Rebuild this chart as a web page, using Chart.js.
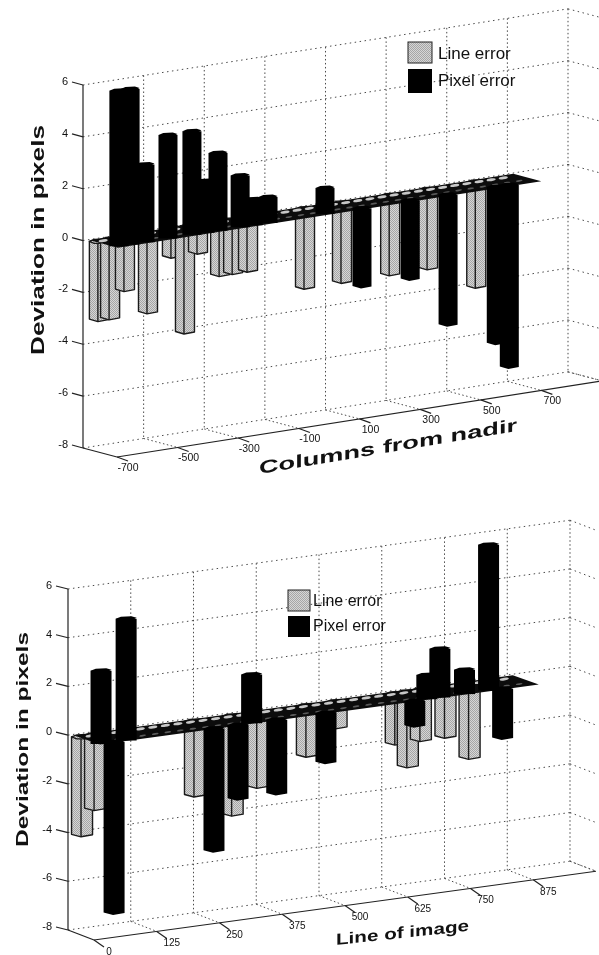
<!DOCTYPE html>
<html>
<head>
<meta charset="utf-8">
<style>
  html, body { margin: 0; padding: 0; background: #fff; }
  canvas { position: absolute; left: 0; }
</style>
<script src="https://cdn.jsdelivr.net/npm/chart.js@4"></script>
</head>
<body>
<canvas id="top_chart" width="599" height="480" style="top:0"></canvas>
<canvas id="bottom_chart" width="599" height="475" style="top:480px"></canvas>
<script>
const seriesNames = ["Line error", "Pixel error"];
const yTicks = [6, 4, 2, 0, -2, -4, -6, -8];

const topCols = [-674, -637, -588, -512, -433, -390, -347, -274, -231, -182, 6, 128, 287, 412, 571, 614];
const topLine = [-3, -3, -2, -3, -1, -4, -1, -2, -2, -2, -3, -3, -3, -3, -4, 0];
const topPixel = [6, 6, 3, 4, 4, 2, 3, 2, 1, 1, 1, -3, -3, -5, -6, -7];
const topXTicks = [-700, -500, -300, -100, 100, 300, 500, 700, 900];
const topXLabels = ["-700", "-500", "-300", "-100", "100", "300", "500", "700"];
const topZeroCols = [-660, -620, -580, -540, -500, -460, -420, -380, -340, -300, -260, -220, -180, -140, -100, -60, -20, 20, 60, 100, 140, 180, 220, 260, 300, 340, 380, 420, 460, 500, 540, 580, 620, 660];

const bottomCols = [14, 40, 64, 239, 287, 314, 364, 462, 521, 639, 663, 689, 738, 786, 814];
const bottomLine = [-4, -3, 0, -3, 0, -4, -3, -2, -1, -2, -3, -2, -2, -3, 0];
const bottomPixel = [3, -7, 5, -5, -3, 2, -3, -2, 0, -1, 1, 2, 1, 6, -2];
const bottomXTicks = [0, 125, 250, 375, 500, 625, 750, 875, 1000];
const bottomXLabels = ["0", "125", "250", "375", "500", "625", "750", "875"];
const bottomZeroCols = [30, 55, 80, 105, 130, 155, 180, 205, 230, 255, 280, 305, 330, 355, 380, 405, 430, 455, 480, 505, 530, 555, 580, 605, 630, 655, 680, 705, 730, 755, 780, 805, 830, 855];

// fine halftone for the grey bars, the scan has it too
function makeStipple() {
  let c = document.createElement("canvas");
  c.width = 2;
  c.height = 2;
  let g = c.getContext("2d");
  g.fillStyle = "#d6d6d6";
  g.fillRect(0, 0, 2, 2);
  g.fillStyle = "#a6a6a6";
  g.fillRect(0, 0, 1, 1);
  g.fillRect(1, 1, 1, 1);
  return g.createPattern(c, "repeat");
}

function path(ctx, pts) {
  ctx.beginPath();
  pts.forEach((p, i) => i === 0 ? ctx.moveTo(p[0], p[1]) : ctx.lineTo(p[0], p[1]));
  ctx.closePath();
}

function line(ctx, x1, y1, x2, y2) {
  ctx.beginPath();
  ctx.moveTo(x1, y1);
  ctx.lineTo(x2, y2);
  ctx.stroke();
}

// stretched text, sheared so it follows the floor of the box
function stretchedText(ctx, text, font, x, y, length, shear, upright) {
  ctx.save();
  ctx.font = font;
  ctx.textAlign = "left";
  ctx.textBaseline = "alphabetic";
  let sx = length / ctx.measureText(text).width;
  ctx.translate(x, y);
  if (upright) {
    ctx.rotate(-Math.PI / 2);
  }
  ctx.transform(sx, shear * sx, 0, 1, 0, 0);
  ctx.fillStyle = "#111";
  ctx.fillText(text, 0, 0);
  ctx.restore();
}

function boxPlugin(o) {
  // wall position of a scale pixel, pushed forward by an (dx, dy) depth offset
  function proj(chart, px, py, off) {
    return [px + off.dx, py + o.slope * (px - chart.chartArea.left) + off.dy];
  }

  function drawBar(chart, ctx, el, off, fill, outline) {
    let h = el.width / 2;
    let y0 = el.base;
    let yv = el.y;
    if (Math.abs(y0 - yv) < 0.5) {
      return;
    }
    // the bar keeps its own level across its width, only the centre follows the wall
    let c = proj(chart, el.x, 0, off);
    let p = (dx, y) => [c[0] + dx, c[1] + y];
    let yTop = Math.min(y0, yv);
    let drop = yv > y0 ? 2.5 : 0;
    path(ctx, [p(-h, y0), p(-h, yv), p(-1, yv + drop), p(h, yv + drop / 5), p(h, y0)]);
    ctx.fillStyle = fill;
    ctx.fill();
    if (outline) {
      ctx.stroke();
      let a = p(-1, yTop);
      let b = p(-1, yv + drop);
      line(ctx, a[0], a[1], b[0], b[1]);
    }
    path(ctx, [p(-h, yTop), p(-h / 2, yTop - 2), p(h / 2, yTop - 2.5), p(h, yTop - 1), p(h / 2, yTop + 2), p(-h / 2, yTop + 2)]);
    ctx.fillStyle = fill;
    ctx.fill();
    if (outline) {
      ctx.stroke();
    }
  }

  function drawBand(chart, ctx) {
    let xs = chart.scales.x;
    let y0 = chart.scales.y.getPixelForValue(0);
    let l = xs.getPixelForValue(o.bandFrom);
    let r = xs.getPixelForValue(o.bandTo);
    path(ctx, [
      proj(chart, l, y0, o.bandBack), proj(chart, r, y0, o.bandBack),
      proj(chart, r, y0, o.bandFront), proj(chart, l, y0, o.bandFront)
    ]);
    ctx.fillStyle = "#0c0c0c";
    ctx.fill();
    ctx.fillStyle = "#c8c8c8";
    o.zeroCols.forEach(c => {
      let s = proj(chart, xs.getPixelForValue(c), y0, o.rows[0]);
      ctx.beginPath();
      ctx.ellipse(s[0], s[1], 4.6, 1.4, -0.15, 0, Math.PI * 2);
      ctx.fill();
    });
    ctx.fillStyle = "#5a5a5a";
    o.zeroCols.forEach(c => {
      let s = proj(chart, xs.getPixelForValue(c), y0, o.rows[1]);
      ctx.beginPath();
      ctx.ellipse(s[0] - 4, s[1] - 2, 3.4, 0.9, -0.15, 0, Math.PI * 2);
      ctx.fill();
    });
  }

  return {
    id: "box",
    beforeDatasetsDraw(chart) {
      let ctx = chart.ctx;
      let xs = chart.scales.x;
      let ys = chart.scales.y;
      let a = chart.chartArea;
      let none = { dx: 0, dy: 0 };
      ctx.save();

      // dotted grid on the back and right walls and on the floor
      ctx.strokeStyle = "#4a4a4a";
      ctx.lineWidth = 1;
      ctx.setLineDash([1.5, 3.5]);
      yTicks.forEach(v => {
        let y = ys.getPixelForValue(v);
        let s = proj(chart, a.left, y, none);
        let e = proj(chart, a.right, y, none);
        line(ctx, s[0], s[1], e[0], e[1]);
        line(ctx, e[0], e[1], e[0] + o.depth.dx, e[1] + o.depth.dy);
      });
      ctx.setLineDash([1.5, 2.5]);
      o.xTicks.forEach((v, i) => {
        let x = xs.getPixelForValue(v);
        let s = proj(chart, x, a.top, none);
        let e = proj(chart, x, a.bottom, none);
        if (i > 0) {
          line(ctx, s[0], s[1], e[0], e[1]);
          line(ctx, e[0], e[1], e[0] + o.depth.dx, e[1] + o.depth.dy);
        }
      });
      ctx.setLineDash([]);

      // solid axes
      ctx.strokeStyle = "#222";
      ctx.lineWidth = 1.2;
      line(ctx, a.left, ys.getPixelForValue(6), a.left, a.bottom);
      line(ctx, a.left, a.bottom, a.left + o.depth.dx, a.bottom + o.depth.dy);
      let fs = proj(chart, a.left, a.bottom, o.depth);
      let fe = proj(chart, a.right, a.bottom, o.depth);
      line(ctx, fs[0], fs[1], fe[0], fe[1]);

      ctx.fillStyle = "#111";
      ctx.font = o.yTickFont;
      ctx.textAlign = "right";
      ctx.textBaseline = "middle";
      yTicks.forEach(v => {
        let y = ys.getPixelForValue(v);
        line(ctx, a.left, y, a.left - o.yTickLen, y - 3);
        ctx.fillText(String(v), a.left - o.yTickLen - 4, y - 3);
      });

      ctx.font = o.xTickFont;
      ctx.textAlign = "center";
      o.xLabels.forEach((t, i) => {
        let q = proj(chart, xs.getPixelForValue(o.xTicks[i]), a.bottom, o.depth);
        line(ctx, q[0], q[1], q[0] + o.xTickLen.dx, q[1] + o.xTickLen.dy);
        ctx.fillText(t, q[0] + o.xLabelOff.dx, q[1] + o.xLabelOff.dy);
      });

      // legend sits inside the box
      o.legend.forEach((b, i) => {
        let label = chart.data.datasets[i].label;
        ctx.fillStyle = i === 0 ? o.stipple : "#000";
        ctx.fillRect(b.x, b.y, b.w, b.h);
        if (i === 0) {
          ctx.lineWidth = 1;
          ctx.strokeRect(b.x, b.y, b.w, b.h);
        }
        ctx.fillStyle = "#111";
        ctx.font = o.legendFont;
        ctx.textAlign = "left";
        ctx.textBaseline = "alphabetic";
        ctx.fillText(label, b.tx, b.ty);
      });

      stretchedText(ctx, o.xTitle.text, o.xTitle.font, o.xTitle.x, o.xTitle.y, o.xTitle.len, o.xTitle.shear, false);
      stretchedText(ctx, "Deviation in pixels", o.yTitle.font, o.yTitle.x, o.yTitle.y, o.yTitle.len, 0, true);
      ctx.restore();
    },
    // the bars come from the library elements, only the shape is drawn here
    beforeDatasetDraw(chart, args) {
      let ctx = chart.ctx;
      let row = args.index;
      ctx.save();
      if (row === 1) {
        drawBand(chart, ctx);
      }
      ctx.strokeStyle = "#1a1a1a";
      ctx.lineWidth = 1.4;
      ctx.lineJoin = "round";
      args.meta.data.forEach(el => {
        drawBar(chart, ctx, el, o.rows[row], row === 0 ? o.stipple : "#000", row === 0);
      });
      ctx.restore();
      return false;
    }
  };
}

function makeChart(id, cols, lineVals, pixelVals, o) {
  let canvas = document.getElementById(id);
  o.stipple = makeStipple();
  return new Chart(canvas, {
    type: "bar",
    data: {
      datasets: [
        { label: seriesNames[0], order: 2, data: cols.map((c, i) => ({ x: c, y: lineVals[i] })) },
        { label: seriesNames[1], order: 1, data: cols.map((c, i) => ({ x: c, y: pixelVals[i] })) }
      ]
    },
    options: {
      responsive: false,
      animation: false,
      layout: { padding: o.padding },
      barThickness: o.barWidth,
      grouped: false,
      plugins: { legend: { display: false }, tooltip: { enabled: false } },
      scales: {
        x: { type: "linear", display: false, offset: false, min: o.xTicks[0], max: o.xTicks[o.xTicks.length - 1] },
        y: { type: "linear", display: false, min: -8, max: 6 }
      }
    },
    plugins: [boxPlugin(o)]
  });
}

makeChart("top_chart", topCols, topLine, topPixel, {
  padding: { left: 83, right: 31, top: 85, bottom: 32 },
  slope: -0.157,
  depth: { dx: 34, dy: 9 },
  rows: [{ dx: 8, dy: 2 }, { dx: 28, dy: 7 }],
  bandBack: { dx: 2, dy: 0.5 },
  bandFront: { dx: 30, dy: 8 },
  bandFrom: -684,
  bandTo: 713,
  barWidth: 19,
  xTicks: topXTicks,
  xLabels: topXLabels,
  zeroCols: topZeroCols,
  yTickFont: "11px 'Liberation Sans'",
  xTickFont: "10.5px 'Liberation Sans'",
  yTickLen: 11,
  xTickLen: { dx: 11, dy: 4 },
  xLabelOff: { dx: 11, dy: 11 },
  legendFont: "17px 'Liberation Sans'",
  legend: [
    { x: 408, y: 42, w: 24, h: 21, tx: 438, ty: 59 },
    { x: 408, y: 69, w: 24, h: 24, tx: 438, ty: 86 }
  ],
  xTitle: { text: "Columns from nadir", font: "bold 18px 'Liberation Sans'", x: 259, y: 474, len: 258, shear: -0.167 },
  yTitle: { font: "bold 18px 'Liberation Sans'", x: 44, y: 355, len: 230 }
});

makeChart("bottom_chart", bottomCols, bottomLine, bottomPixel, {
  padding: { left: 68, right: 29, top: 109, bottom: 25 },
  slope: -0.137,
  depth: { dx: 26, dy: 10 },
  rows: [{ dx: 7, dy: 2.7 }, { dx: 26, dy: 9.7 }],
  bandBack: { dx: 2, dy: 0.8 },
  bandFront: { dx: 28, dy: 10 },
  bandFrom: 8,
  bandTo: 882,
  barWidth: 21,
  xTicks: bottomXTicks,
  xLabels: bottomXLabels,
  zeroCols: bottomZeroCols,
  yTickFont: "11px 'Liberation Sans'",
  xTickFont: "10px 'Liberation Sans'",
  yTickLen: 12,
  xTickLen: { dx: 10, dy: 7 },
  xLabelOff: { dx: 15, dy: 12 },
  legendFont: "16px 'Liberation Sans'",
  legend: [
    { x: 288, y: 110, w: 22, h: 21, tx: 313, ty: 126 },
    { x: 288, y: 136, w: 22, h: 21, tx: 313, ty: 151 }
  ],
  xTitle: { text: "Line of image", font: "bold 16px 'Liberation Sans'", x: 336, y: 465, len: 133, shear: -0.106 },
  yTitle: { font: "bold 16px 'Liberation Sans'", x: 28, y: 367, len: 215 }
});
</script>
</body>
</html>
